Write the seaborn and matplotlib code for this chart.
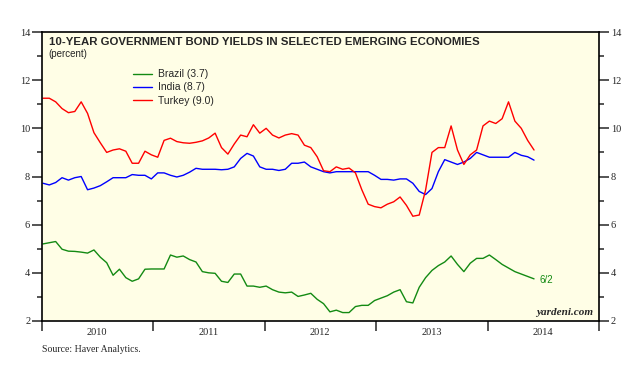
import numpy as np
import pandas as pd
import matplotlib
matplotlib.use('Agg')
import matplotlib.pyplot as plt
import matplotlib.dates as mdates
from matplotlib.ticker import MultipleLocator, NullFormatter
import seaborn as sns

# 10-year yields, percent, every 3 weeks (Jan 2010 - 6/2/2014)
brazil = [5.20, 5.25, 5.30, 4.98, 4.90, 4.89, 4.86, 4.82, 4.95, 4.65,
          4.42, 3.90, 4.15, 3.80, 3.65, 3.75, 4.15, 4.16, 4.16, 4.16,
          4.74, 4.65, 4.70, 4.55, 4.45, 4.05, 4.00, 3.98, 3.65, 3.60,
          3.95, 3.95, 3.45, 3.45, 3.40, 3.45, 3.30, 3.20, 3.17, 3.20,
          3.02, 3.08, 3.15, 2.90, 2.72, 2.38, 2.45, 2.35, 2.35, 2.60,
          2.65, 2.65, 2.85, 2.95, 3.05, 3.20, 3.30, 2.80, 2.75, 3.40,
          3.80, 4.10, 4.30, 4.45, 4.70, 4.35, 4.05, 4.40, 4.60, 4.60,
          4.74, 4.55, 4.35, 4.20, 4.05, 3.95, 3.85, 3.75]
india = [7.72, 7.65, 7.75, 7.95, 7.85, 7.95, 8.00, 7.45, 7.52, 7.62,
         7.78, 7.95, 7.95, 7.95, 8.08, 8.05, 8.05, 7.90, 8.15, 8.15,
         8.05, 7.98, 8.05, 8.18, 8.34, 8.30, 8.30, 8.30, 8.28, 8.30,
         8.40, 8.75, 8.96, 8.85, 8.40, 8.30, 8.30, 8.25, 8.30, 8.55,
         8.55, 8.60, 8.40, 8.30, 8.20, 8.15, 8.20, 8.20, 8.20, 8.20,
         8.20, 8.20, 8.05, 7.88, 7.88, 7.85, 7.90, 7.90, 7.72, 7.38,
         7.25, 7.50, 8.20, 8.70, 8.60, 8.50, 8.60, 8.75, 9.00, 8.90,
         8.80, 8.80, 8.80, 8.80, 9.00, 8.88, 8.82, 8.68]
turkey = [11.25, 11.25, 11.10, 10.82, 10.65, 10.70, 11.10, 10.62, 9.82, 9.40,
          9.00, 9.10, 9.15, 9.05, 8.55, 8.55, 9.05, 8.90, 8.80, 9.50,
          9.59, 9.45, 9.40, 9.38, 9.42, 9.48, 9.60, 9.80, 9.20, 8.93,
          9.35, 9.72, 9.65, 10.15, 9.80, 10.00, 9.72, 9.60, 9.72, 9.78,
          9.72, 9.30, 9.20, 8.82, 8.24, 8.20, 8.40, 8.30, 8.35, 8.15,
          7.45, 6.85, 6.75, 6.70, 6.85, 6.95, 7.15, 6.80, 6.35, 6.40,
          7.44, 9.00, 9.20, 9.20, 10.10, 9.10, 8.50, 8.90, 9.10, 10.10,
          10.30, 10.20, 10.40, 11.10, 10.30, 10.00, 9.50, 9.10]

series_names = ['Brazil (3.7)', 'India (8.7)', 'Turkey (9.0)']
series_colors = ['#138a13', '#0000ff', '#ff0000']

assert len(brazil) == len(india) == len(turkey)
dates = pd.date_range('2010-01-04', '2014-06-02', periods=len(brazil))
df = pd.DataFrame({
    'date': np.tile(dates, 3),
    'yield': brazil + india + turkey,
    'series': np.repeat(series_names, len(dates)),
})

sns.set_style('ticks')
plt.rcParams['font.family'] = ['Liberation Serif', 'DejaVu Serif']

fig = plt.figure(figsize=(6.37, 3.67), dpi=100)
ax = fig.add_axes([42 / 637, 1 - 321 / 367, 557 / 637, 289 / 367])
ax.set_facecolor('#fffee6')

sns.lineplot(data=df, x='date', y='yield', hue='series', hue_order=series_names,
             palette=dict(zip(series_names, series_colors)), linewidth=1.0, ax=ax)

ax.set_xlim(pd.Timestamp('2010-01-01'), pd.Timestamp('2015-01-01'))
ax.set_ylim(2, 14)
ax.set_xlabel('')
ax.set_ylabel('')

ax.xaxis.set_major_locator(mdates.YearLocator(1))
ax.xaxis.set_major_formatter(NullFormatter())
ax.xaxis.set_minor_locator(mdates.MonthLocator(bymonth=7))
ax.xaxis.set_minor_formatter(mdates.DateFormatter('%Y'))
ax.tick_params(axis='x', which='major', length=7, width=1.1, direction='out')
ax.tick_params(axis='x', which='minor', length=0, pad=5, labelsize=7.5)

ax.yaxis.set_major_locator(MultipleLocator(2))
ax.yaxis.set_minor_locator(MultipleLocator(1))
ax.tick_params(axis='y', which='both', left=True, right=True, labelleft=True,
               labelright=True, direction='out', labelsize=7.5, pad=1.5, width=1.1)
ax.tick_params(axis='y', which='major', length=7)
ax.tick_params(axis='y', which='minor', length=3.5)

for s in ax.spines.values():
    s.set_visible(True)
    s.set_linewidth(1.2)
    s.set_color('black')

sans = ['Liberation Sans', 'DejaVu Sans']
ax.text(0.012, 0.954, '10-YEAR GOVERNMENT BOND YIELDS IN SELECTED EMERGING ECONOMIES',
        transform=ax.transAxes, fontsize=8.2, fontweight='bold', family=sans, va='baseline')
ax.text(0.012, 0.915, '(percent)', transform=ax.transAxes, fontsize=7, family=sans,
        va='baseline')

leg = ax.legend(loc='upper left', bbox_to_anchor=(0.163, 0.871), frameon=False,
                handlelength=1.8, handletextpad=0.6, labelspacing=0.3,
                borderpad=0, borderaxespad=0, prop={'family': sans, 'size': 7.5})

ax.text(pd.Timestamp('2014-06-20'), 3.7, '6/2', color=series_colors[0], fontsize=7,
        family=sans, va='center')
ax.text(0.99, 0.015, 'yardeni.com', transform=ax.transAxes, ha='right', va='bottom',
        fontsize=8, fontweight='bold', style='italic')
fig.text(42 / 637, 1 - 350 / 367, 'Source: Haver Analytics.', fontsize=7, va='center')

fig.savefig('out.png', dpi=100)
